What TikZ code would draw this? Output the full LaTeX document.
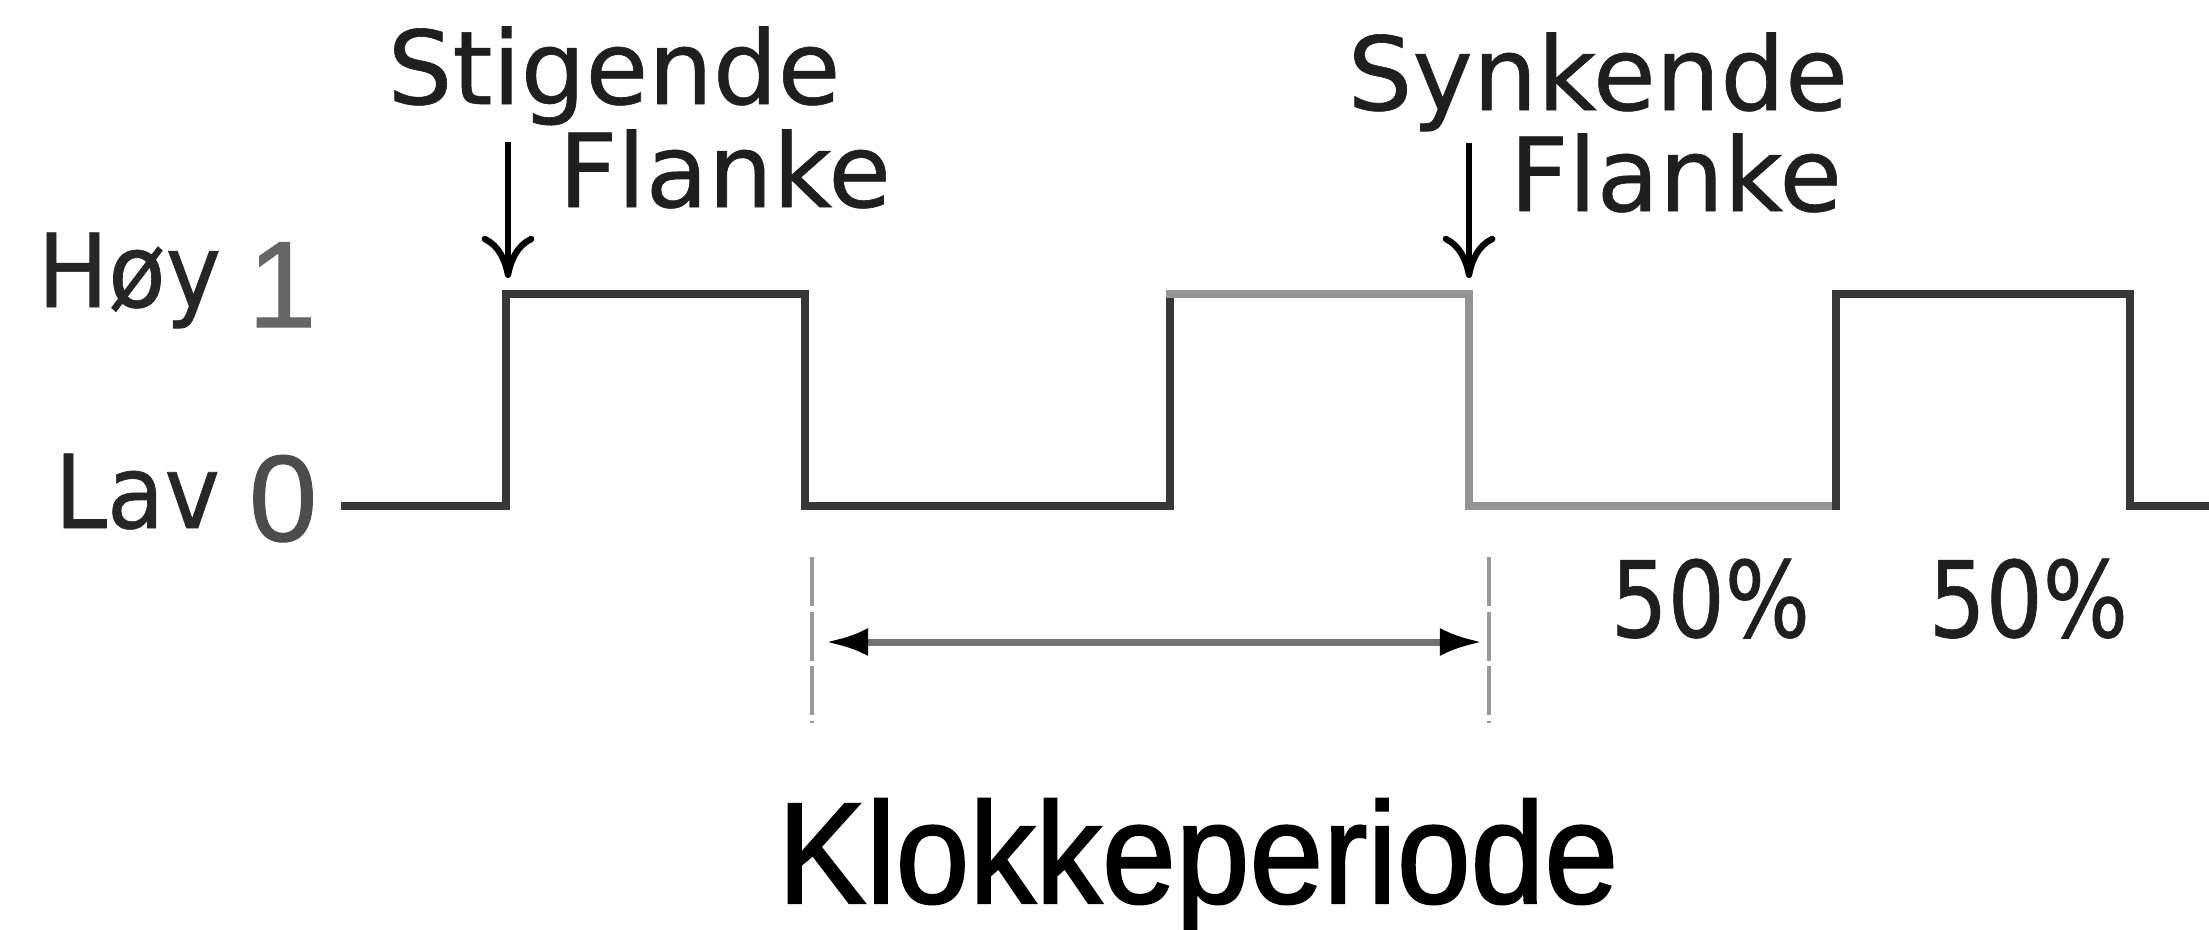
\documentclass[tikz,border=0pt]{standalone}
\usepackage{fontspec}
\setmainfont{DejaVu Sans}[FakeBold=0.6]
\newfontfamily\labelfont{DejaVu Sans}[FakeBold=0.6]
\newfontfamily\levelfont{DejaVu Sans}[FakeStretch=0.92, FakeBold=0.6]
\newfontfamily\narrowfont{DejaVu Sans}[FakeStretch=0.85, FakeBold=0.6]
\newfontfamily\digitfont{Liberation Sans}[FakeBold=0.8]
\newfontfamily\titlefont{Liberation Sans}[FakeStretch=0.92, FakeBold=1.4]
\usetikzlibrary{arrows.meta, positioning}

\begin{document}
\begin{tikzpicture}[
    x=0.01cm, y=-0.01cm,
    lbl/.style={inner sep=0pt, anchor=base west, text=black!88, font=\labelfont\fontsize{29}{34}\selectfont},
    level/.style={inner sep=0pt, anchor=base west, text=black!85, font=\levelfont\fontsize{29}{34}\selectfont},
    digit/.style={inner sep=0pt, anchor=base east, font=\digitfont\fontsize{35}{40}\selectfont},
    wave/.style={line width=2.5pt, line cap=rect, black!78},
    wavelight/.style={line width=2.5pt, line cap=rect, black!42},
    edge/.style={-{Computer Modern Rightarrow[length=12pt, width=15pt]}, line width=1.8pt},
    guide/.style={black!40, line width=1.1pt, dash pattern=on 14pt off 1.5pt},
    period/.style={{Latex[length=12pt, width=8pt, color=black]}-{Latex[length=12pt, width=8pt, color=black]}, line width=2pt, black!55}
]
\useasboundingbox (0,0) rectangle (2209,929);

% level labels
\node[level] (hoy) at (37,307) {Høy};
\node[digit, text=black!60] (one) at (317,327) {1};
\node[level] (lav) at (54,528) {Lav};
\node[digit, text=black!70] (zero) at (318,541) {0};

% clock signal
\draw[wave] (345,506) -| (506,294) -| (805,506) -| (1170,294);
\draw[wavelight] (1170,294) -| (1469,506) -- (1836,506);
\draw[wave] (1836,506) -- (1836,294) -| (2130,506) -- (2209,506);

% edges
\node[lbl] (stig) at (387,104) {Stigende};
\node[lbl] (stigfl) at (558,207) {Flanke};
\node[lbl] (synk) at (1347,110) {Synkende};
\node[lbl] (synkfl) at (1509,211) {Flanke};
\coordinate (stigtop) at (508,142);
\coordinate (stigtip) at (508,278);
\coordinate (synktop) at (1469,143);
\coordinate (synktip) at (1469,278);
\draw[edge] (stigtop) -- (stigtip);
\draw[edge] (synktop) -- (synktip);

% period
\coordinate (p1top) at (812,557);
\coordinate (p1bot) at (812,723);
\coordinate (p2top) at (1489,557);
\coordinate (p2bot) at (1489,723);
\coordinate (pleft) at (826,642);
\coordinate (pright) at (1482,642);
\draw[guide] (p1top) -- (p1bot);
\draw[guide] (p2top) -- (p2bot);
\draw[period] (pleft) -- (pright);

\node[lbl, font=\narrowfont\fontsize{30}{34}\selectfont] (duty1) at (1610,637) {50\%};
\node[lbl, font=\narrowfont\fontsize{30}{34}\selectfont] (duty2) at (1928,637) {50\%};
\node[inner sep=0pt, anchor=base, font=\titlefont\fontsize{41}{46}\selectfont] (klokke) at (1198,903) {Klokkeperiode};
\end{tikzpicture}
\end{document}
